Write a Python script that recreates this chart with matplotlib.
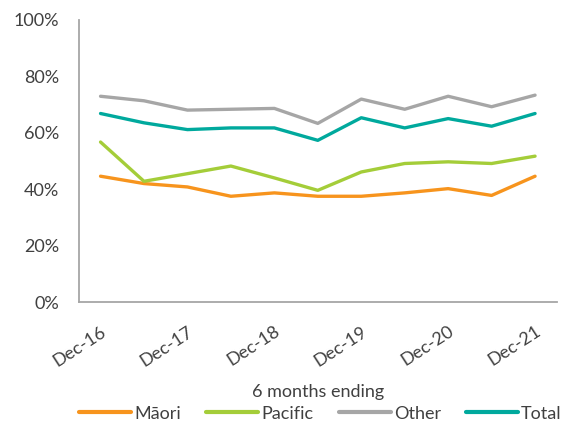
import matplotlib
matplotlib.use("Agg")
import matplotlib.pyplot as plt
from matplotlib.ticker import PercentFormatter

plt.rcParams['font.family'] = ['Lato', 'DejaVu Sans']

# 6 month periods, Dec-16 .. Dec-21
periods = ['Dec-16', 'Jun-17', 'Dec-17', 'Jun-18', 'Dec-18', 'Jun-19',
           'Dec-19', 'Jun-20', 'Dec-20', 'Jun-21', 'Dec-21']
maori = [44.7, 42.1, 40.9, 37.6, 38.8, 37.6, 37.6, 38.8, 40.3, 37.9, 44.7]
pacific = [56.8, 42.9, 45.6, 48.3, 44.1, 39.7, 46.2, 49.2, 49.8, 49.2, 51.8]
other = [73.0, 71.4, 68.1, 68.4, 68.7, 63.4, 72.0, 68.4, 73.0, 69.3, 73.4]
total = [66.9, 63.6, 61.2, 61.8, 61.8, 57.4, 65.4, 61.8, 65.1, 62.4, 66.9]

txt = '#404040'
axc = '#a6a6a6'

fig = plt.figure(figsize=(5.67, 4.21), dpi=100)
ax = fig.add_axes([0.139, 0.2815, 0.843, 0.671])

x = range(len(periods))
ax.plot(x, maori, color='#f7941d', lw=2.4, label='Māori', solid_capstyle='round')
ax.plot(x, pacific, color='#a4cd39', lw=2.4, label='Pacific', solid_capstyle='round')
ax.plot(x, other, color='#a6a6a6', lw=2.4, label='Other', solid_capstyle='round')
ax.plot(x, total, color='#00a99d', lw=2.4, label='Total', solid_capstyle='round')

ax.set_xlim(-0.5, len(periods) - 0.5)
ax.set_ylim(0, 100)
ax.yaxis.set_major_formatter(PercentFormatter(decimals=0))
ax.set_yticks(range(0, 101, 20))

ax.set_xticks(list(x)[::2])
ax.set_xticklabels(periods[::2], rotation=33, ha='right', rotation_mode='anchor')

for s in ['top', 'right']:
    ax.spines[s].set_visible(False)
for s in ['left', 'bottom']:
    ax.spines[s].set_color(axc)
    ax.spines[s].set_linewidth(1.3)

ax.tick_params(length=0, colors=txt, labelsize=13)
ax.tick_params(axis='y', pad=14)
ax.tick_params(axis='x', pad=15)

ax.set_xlabel('6 months ending', color=txt, fontsize=13, labelpad=11)

leg = fig.legend(loc='lower center', bbox_to_anchor=(0.565, -0.04), ncol=4,
                 frameon=False, fontsize=13, handlelength=2.9,
                 handletextpad=0.15, columnspacing=1.4)
for t in leg.get_texts():
    t.set_color(txt)
for h in leg.get_lines():
    h.set_linewidth(3)

fig.savefig('out.png', dpi=100)
